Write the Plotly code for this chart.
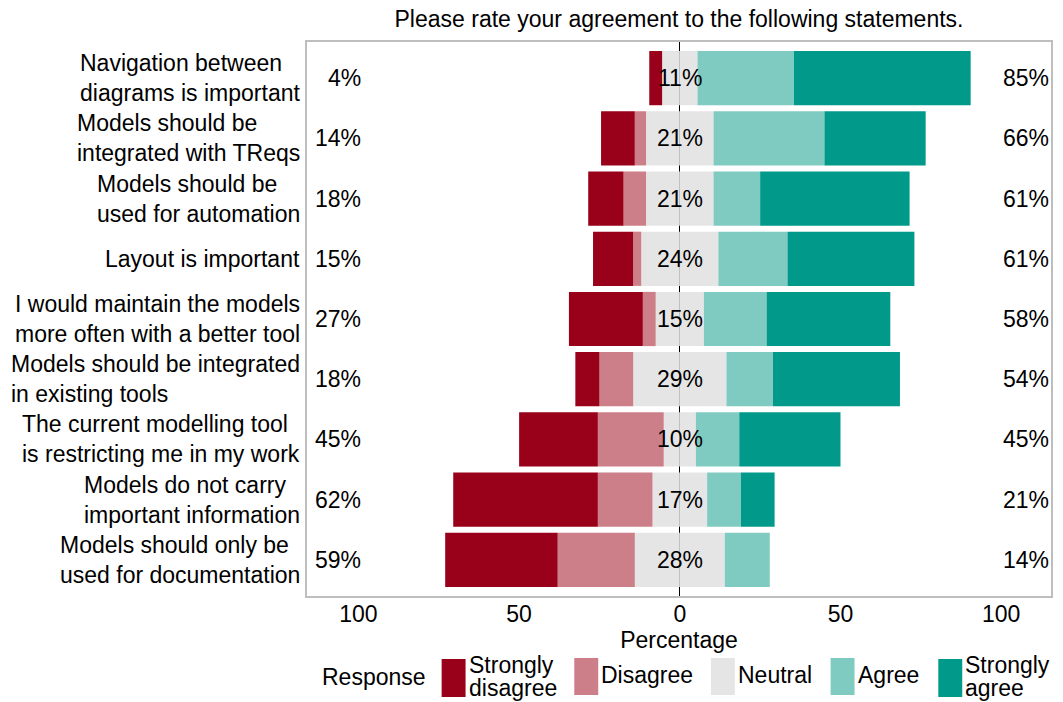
import plotly.graph_objects as go

# ---------------- data ----------------
statements = [
    "Navigation between<br>diagrams is important",
    "Models should be<br>integrated with TReqs",
    "Models should be<br>used for automation",
    "Layout is important",
    "I would maintain the models<br>more often with a better tool",
    "Models should be integrated<br>in existing tools",
    "The current modelling tool<br>is restricting me in my work",
    "Models do not carry<br>important information",
    "Models should only be<br>used for documentation",
]
strongly_disagree = [4, 10.5, 11, 12.5, 23, 7.5, 24.5, 45, 35]
disagree = [0, 3.5, 7, 2.5, 4, 10.5, 20.5, 17, 24]
neutral = [11, 21, 21, 24, 15, 29, 10, 17, 28]
agree = [30, 34.5, 14.5, 21.5, 19.5, 14.5, 13.5, 10.5, 14]
strongly_agree = [55, 31.5, 46.5, 39.5, 38.5, 39.5, 31.5, 10.5, 0]

responses = ["Strongly<br>disagree", "Disagree", "Neutral", "Agree", "Strongly<br>agree"]
colors = ["#99001A", "#CC7F88", "#E5E5E5", "#80CBC1", "#00998A"]
tick_vals = [-100, -50, 0, 50, 100]
tick_text = ["100", "50", "0", "50", "100"]

FONT = "Liberation Sans, Arial, Helvetica, sans-serif"
FS = 23
OFF = 8                      # page body margin of the html page
W, H = 1063 - OFF, 702 - OFF
ML, MR, MT, MB = 307 - OFF, 10, 42 - OFF, 106

fig = go.Figure()

neg = lambda v: [-x for x in v]
half = [x / 2 for x in neutral]

# negative side (stack outward from 0)
fig.add_trace(go.Bar(y=statements, x=neg(half), orientation="h", marker_color=colors[2], name="Neutral"))
fig.add_trace(go.Bar(y=statements, x=neg(disagree), orientation="h", marker_color=colors[1], name="Disagree"))
fig.add_trace(go.Bar(y=statements, x=neg(strongly_disagree), orientation="h", marker_color=colors[0], name="Strongly disagree"))
# positive side
fig.add_trace(go.Bar(y=statements, x=half, orientation="h", marker_color=colors[2], name="Neutral"))
fig.add_trace(go.Bar(y=statements, x=agree, orientation="h", marker_color=colors[3], name="Agree"))
fig.add_trace(go.Bar(y=statements, x=strongly_agree, orientation="h", marker_color=colors[4], name="Strongly agree"))

fig.update_traces(width=0.9, marker_line_width=0, showlegend=False, hoverinfo="x+y")

annotations = []
for i, s in enumerate(statements):
    low = strongly_disagree[i] + disagree[i]
    high = agree[i] + strongly_agree[i]
    annotations.append(dict(x=-98.5, y=s, xref="x", yref="y", text=f"{round(low)}%",
                            showarrow=False, xanchor="right", font=dict(size=FS, color="black", family=FONT)))
    annotations.append(dict(x=100, y=s, xref="x", yref="y", text=f"{round(high)}%",
                            showarrow=False, xanchor="left", font=dict(size=FS, color="black", family=FONT)))
    annotations.append(dict(x=0, y=s, xref="x", yref="y", text=f"{round(neutral[i])}%",
                            showarrow=False, xanchor="center", font=dict(size=FS, color="black", family=FONT)))
    # category labels: block right-aligned, lines left-aligned
    annotations.append(dict(x=-5 / (W - ML - MR), y=s, xref="paper", yref="y", text=s, align="left",
                            showarrow=False, xanchor="right", font=dict(size=FS, color="black", family=FONT)))

# ---------- manual legend (reference pixel layout converted to paper coords) ----------
pw, ph = W - ML - MR, H - MT - MB
px = lambda v: (v - OFF - ML) / pw
py = lambda v: (H - MB - (v - OFF)) / ph

annotations.append(dict(x=px(320), y=py(677), xref="paper", yref="paper", text="Response",
                        showarrow=False, xanchor="left", yanchor="middle",
                        font=dict(size=FS, color="black", family=FONT)))
key_left = [442, 575, 712, 832, 940]
shapes = []
for k, (lab, col) in enumerate(zip(responses, colors)):
    x0 = key_left[k]
    lines = lab.split("<br>")
    if len(lines) == 1:
        ys, ky = [675], (658, 695)
    else:
        ys, ky = [665, 688], (659, 697)
    shapes.append(dict(type="rect", xref="paper", yref="paper", x0=px(x0), x1=px(x0 + 24),
                       y0=py(ky[1]), y1=py(ky[0]), fillcolor=col, line_width=0))
    for ln, yy in zip(lines, ys):
        annotations.append(dict(x=px(x0 + 26), y=py(yy), xref="paper", yref="paper", text=ln,
                                showarrow=False, xanchor="left", yanchor="middle", borderpad=0,
                                font=dict(size=FS, color="black", family=FONT)))

fig.update_layout(
    width=W, height=H,
    barmode="relative",
    bargap=0.1,
    plot_bgcolor="white", paper_bgcolor="white",
    margin=dict(l=ML, r=MR, t=MT, b=MB),
    font=dict(family=FONT, size=FS, color="black"),
    title=dict(text="Please rate your agreement to the following statements.",
               x=0.5, xref="paper", xanchor="center", y=1 - (19 - OFF) / H, yanchor="middle",
               font=dict(size=FS, color="black", family=FONT)),
    annotations=annotations,
    shapes=shapes,
    showlegend=False,
)
fig.update_xaxes(range=[-116, 115.5], tickvals=tick_vals, ticktext=tick_text, ticks="",
                 ticklabelstandoff=-3,
                 showgrid=False, showline=True, mirror=True, linecolor="#BEBEBE", linewidth=1.5,
                 zeroline=True, zerolinecolor="black", zerolinewidth=1,
                 tickfont=dict(size=FS, color="black", family=FONT),
                 title=dict(text="Percentage", standoff=0, font=dict(size=FS, color="black", family=FONT)))
fig.update_yaxes(type="category", categoryorder="array", categoryarray=statements,
                 range=[8.6, -0.6], showticklabels=False, ticks="", showgrid=False,
                 showline=True, mirror=True, linecolor="#BEBEBE", linewidth=1.5, zeroline=False)

fig.write_html("out.html")
